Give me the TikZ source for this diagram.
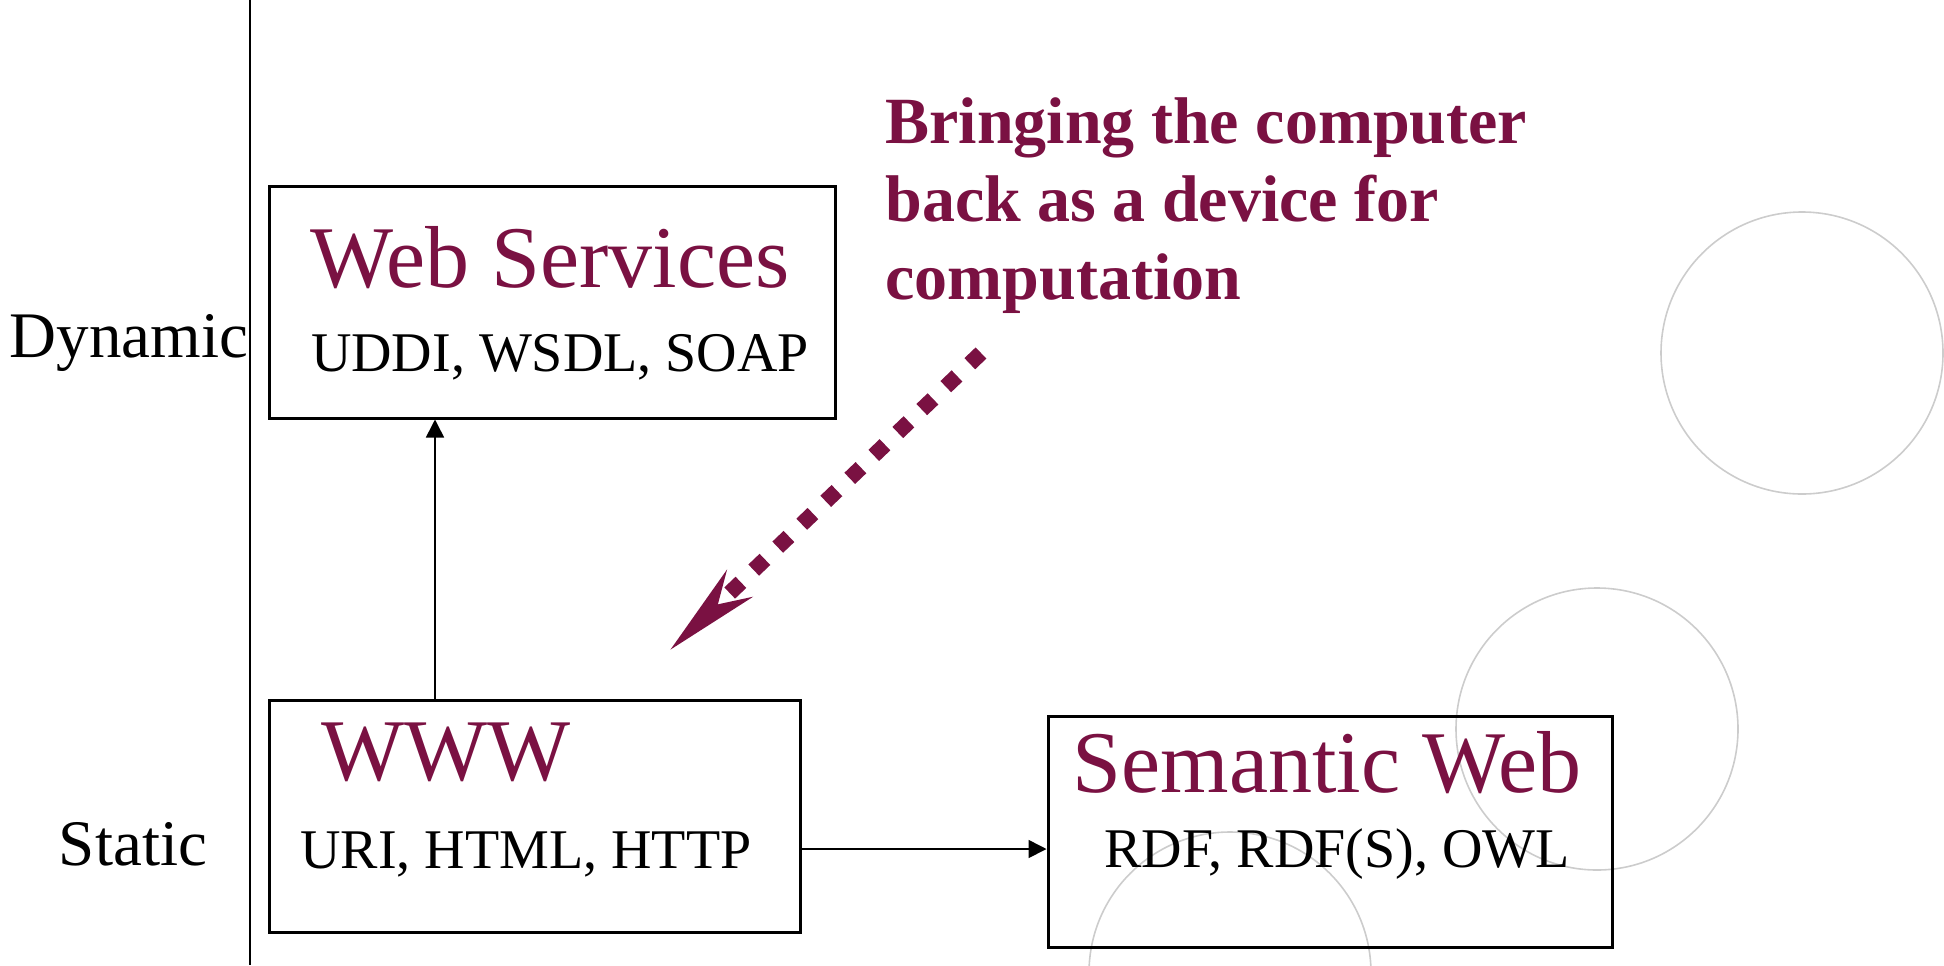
\documentclass[tikz,border=0pt]{standalone}
\usepackage{fontspec}
\setmainfont{Liberation Serif}
\usepackage{tikz}
\usetikzlibrary{positioning,arrows.meta}

\definecolor{wine}{RGB}{122,17,66}
\definecolor{ringgray}{RGB}{204,204,204}

\begin{document}
\begin{tikzpicture}[>={Triangle[length=9pt,width=9pt]},x=0.5pt,y=-0.5pt,
    box/.style={draw,line width=1.5pt,minimum height=116pt,inner sep=0pt},
    title/.style={text=wine,anchor=base,inner sep=0pt,font=\fontsize{44}{50}\selectfont},
    tech/.style={anchor=base,inner sep=0pt,font=\fontsize{28}{33}\selectfont},
    side/.style={anchor=base,inner sep=0pt,font=\fontsize{32.5}{38}\selectfont},
    ring/.style={draw=ringgray,line width=0.8pt}]
  \useasboundingbox (0,0) rectangle (1944,965);
  \clip (0,0) rectangle (1944,965);

  % background rings
  \draw[ring] (1802,353) circle (141);
  \draw[ring] (1597,729) circle (141);
  \draw[ring] (1230,973) circle (141);

  % static / dynamic axis
  \draw[line width=1pt] (250,0) -- (250,965);
  \node[side] (dyn) at (129,357) {Dynamic};
  \node[side] (sta) at (133,865) {Static};

  % the three boxes
  \node[box,minimum width=283pt] (ws) at (552,302) {};
  \node[box,minimum width=265.5pt] (www) at (534.5,816) {};
  \node[box,minimum width=282pt,minimum height=115.5pt] (sw) at (1330,831.5) {};

  \node[title] (wsT) at (550,287) {Web Services};
  \node[tech] (wsS) at (560,371) {UDDI, WSDL, SOAP};
  \node[title] (wwwT) at (446,780) {WWW};
  \node[tech] (wwwS) at (526,868) {URI, HTML, HTTP};
  \node[title] (swT) at (1327,792) {Semantic Web};
  \node[tech] (swS) at (1337,867) {RDF, RDF(S), OWL};

  % connectors
  \path ([xshift=-49.75pt]www.north) coordinate (wwwtop);
  \path ([yshift=-16.5pt]www.east) coordinate (wwwright);
  \draw[->,line width=0.8pt] (wwwtop) -- (wwwtop |- ws.south);
  \draw[->,line width=0.8pt] (wwwright) -- (wwwright -| sw.west);

  % note and its arrow
  \node[anchor=north west,align=left,inner sep=0pt,text=wine,
        font=\bfseries\fontsize{33}{39}\selectfont] (note) at (885,97)
    {Bringing the computer\\back as a device for\\computation};
  \coordinate (cmtail) at (981,353);
  \coordinate (cmtip) at (669,651);
  \draw[wine,line width=7.75pt,dash pattern=on 7.75pt off 8.85pt,
        -{Stealth[length=47pt,width=17.5pt,inset=13.5pt]}] (cmtail) -- (cmtip);
\end{tikzpicture}
\end{document}
